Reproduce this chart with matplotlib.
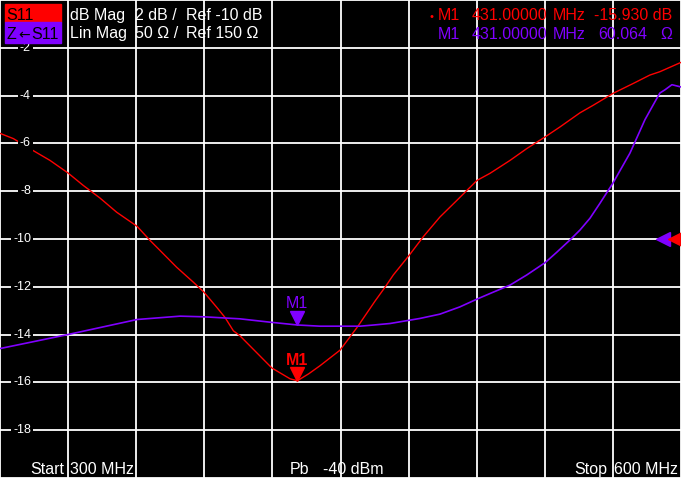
import matplotlib
matplotlib.use('Agg')
import matplotlib.pyplot as plt
from matplotlib.transforms import offset_copy
import numpy as np

plt.rcParams['font.family'] = ['Liberation Sans', 'DejaVu Sans']

# trace 1: S11 dB Mag
red_f = [300, 305.9, 311.9, 322, 330, 336.7, 344.1, 351.4, 360.4, 366.1, 370.5, 377.8,
         385.2, 389.9, 395.5, 399.1, 402.8, 405.7, 419.8, 427.8, 431, 436, 441, 449.8,
         457.3, 465.2, 469.6, 473.3, 480.2, 486.5, 493.8, 501.2, 510.1, 515.9, 524.7,
         532, 540.1, 546.7, 555.5, 561.4, 570, 579, 586.3, 590.7, 600]
red_db = [-5.58, -5.8, -6.15, -6.71, -7.24, -7.76, -8.29, -8.88, -9.47, -10.06, -10.48, -11.18,
          -11.81, -12.23, -12.86, -13.28, -13.84, -14.05, -15.4, -15.85, -15.93, -15.64, -15.3, -14.65,
          -13.7, -12.6, -12.02, -11.5, -10.69, -9.9, -9.08, -8.39, -7.55, -7.25, -6.71,
          -6.22, -5.73, -5.31, -4.72, -4.4, -3.91, -3.49, -3.14, -3.0, -2.61]

# trace 2: Z<-S11 Lin Mag (ohm)
pur_f = [300, 330, 360.4, 379.3, 389.9, 405.7, 418.9, 431, 441, 458.6, 464.4, 471.8,
         485, 493.8, 502.6, 510.1, 515.9, 524.7, 532, 540.1, 545.2, 551.1, 555.5, 559.9,
         564.3, 570, 573.1, 577.5, 581.9, 584.1, 587.8, 590.7, 592.9, 596, 600]
pur_ohm = [35.4, 50.1, 65.8, 69.3, 68.6, 66.5, 63, 60.06, 58.8, 58.8, 60.0, 61.6,
           66.9, 71.4, 79, 87.1, 93, 101.8, 112.3, 125.2, 136, 149, 159.4, 171.7,
           187.4, 208.4, 221.4, 239.8, 263, 274.7, 290.5, 302.7, 306, 311.4, 309]

ytick_vals = [-2, -4, -6, -8, -10, -12, -14, -16, -18]
mkr_f = 431.0
mkr_db = -15.93
mkr_ohm = 60.064

RED = '#ff0000'
PUR = '#8000ff'
W, H = 681, 478

fig = plt.figure(figsize=(W / 100, H / 100), dpi=100, facecolor='black')
ax = fig.add_axes([0, 0, 1, 1])
ax.set_facecolor('black')
ax.set_xlim(300, 600)
ax.set_ylim(-20, 0)
ax.set_xticks(np.arange(300, 601, 30))
ax.set_yticks(np.arange(-20, 0.1, 2))
ax.grid(True, color='white', lw=1.3)
ax.tick_params(length=0, labelbottom=False, labelleft=False)
for s in ax.spines.values():
    s.set_visible(False)

ax2 = ax.twinx()
ax2.set_ylim(-100, 400)
ax2.axis('off')

ax.plot(red_f, red_db, color=RED, lw=1.0, zorder=3)
ax2.plot(pur_f, pur_ohm, color=PUR, lw=1.2, zorder=3)

# y labels inside the plot
for v in ytick_vals:
    ax.text(31 / W, v, f'{v}', transform=ax.get_yaxis_transform(), ha='right',
            va='center', color='white', fontsize=9, zorder=4,
            bbox=dict(facecolor='black', edgecolor='none', pad=1.5))

# markers
ax.plot(mkr_f, mkr_db, marker='v', ms=10.5, color=RED, lw=0, zorder=5,
        transform=offset_copy(ax.transData, fig=fig, x=0, y=7, units='dots'))
ax2.plot(mkr_f, mkr_ohm, marker='v', ms=10.5, color=PUR, lw=0, zorder=5,
         transform=offset_copy(ax2.transData, fig=fig, x=0, y=7, units='dots'))
ax.text(mkr_f, mkr_db, 'M1', color=RED, fontsize=11.5, fontweight='bold', ha='center',
        va='baseline', zorder=5,
        transform=offset_copy(ax.transData, fig=fig, x=0, y=16, units='dots'))
ax2.text(mkr_f, mkr_ohm, 'M1', color=PUR, fontsize=11.5, ha='center', va='baseline',
         zorder=5, transform=offset_copy(ax2.transData, fig=fig, x=0, y=17, units='dots'))

# reference level arrows
ax.plot(663 / W, -10, marker='<', ms=10, color=PUR, lw=0, clip_on=False, zorder=4,
        transform=ax.get_yaxis_transform())
ax.plot(675 / W, -10, marker='<', ms=10, color=RED, lw=0, clip_on=False, zorder=4,
        transform=ax.get_yaxis_transform())


def px_text(x, y, s, **kw):
    kw.setdefault('fontsize', 11.5)
    kw.setdefault('va', 'baseline')
    fig.text(x / W, 1 - y / H, s, **kw)


# header boxes
fig.patches.append(plt.Rectangle((5 / W, 1 - 22 / H), 56 / W, 18 / H,
                                 transform=fig.transFigure, color=RED, zorder=6))
fig.patches.append(plt.Rectangle((5 / W, 1 - 43 / H), 56 / W, 21 / H,
                                 transform=fig.transFigure, color=PUR, zorder=6))
px_text(6, 20.5, 'S11', color='black', zorder=7)
px_text(6, 39, 'Z', color='black', zorder=7)
px_text(18.5, 39, '\u2190', color='black', zorder=7, family=['DejaVu Sans'], fontsize=10)
px_text(31, 39, 'S11', color='black', zorder=7)

px_text(70, 20, 'dB Mag', color='white')
px_text(135, 20, '2 dB /', color='white')
px_text(186, 20, 'Ref -10 dB', color='white')
px_text(70, 38, 'Lin Mag', color='white')
px_text(135, 38, '50 \u03a9 /', color='white')
px_text(186, 38, 'Ref 150 \u03a9', color='white')

px_text(429, 20, '\u2022', color=RED, fontsize=8)
px_text(438, 20, 'M1', color=RED)
px_text(472, 20, '431.00000', color=RED)
px_text(553, 20, 'MHz', color=RED)
px_text(672, 20, '-15.930 dB', color=RED, ha='right')
px_text(438, 39, 'M1', color=PUR)
px_text(472, 39, '431.00000', color=PUR)
px_text(553, 39, 'MHz', color=PUR)
px_text(647, 39, '60.064', color=PUR, ha='right')
px_text(672, 39, '\u03a9', color=PUR, ha='right')

# footer
px_text(30, 474, 'Start', color='white')
px_text(70, 474, '300 MHz', color='white')
px_text(290, 474, 'Pb', color='white')
px_text(323, 474, '-40 dBm', color='white')
px_text(574, 474, 'Stop', color='white')
px_text(678, 474, '600 MHz', color='white', ha='right')

fig.savefig('out.png', dpi=100, facecolor='black')
